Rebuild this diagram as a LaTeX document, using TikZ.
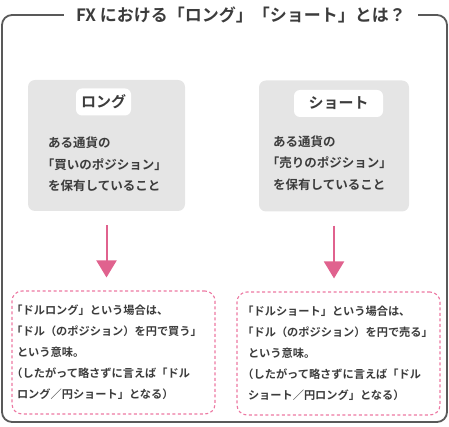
\documentclass[tikz,border=0pt]{standalone}
\usepackage{fontspec}
\setmainfont{Noto Sans CJK JP}[BoldFont=Noto Sans CJK JP Bold]
\usetikzlibrary{arrows.meta,positioning}

\definecolor{framegray}{HTML}{595959}
\definecolor{boxgray}{HTML}{E5E5E5}
\definecolor{textgray}{HTML}{3C3C3C}
\definecolor{arrowpink}{HTML}{E0628E}
\definecolor{dashpink}{HTML}{EC78A2}

% pull a leading bracket flush to the left edge
\newcommand{\lead}{\leavevmode\kern-.5em}

\tikzset{
  frame/.style={draw=framegray, line width=1.8pt, rounded corners=10pt},
  graybox/.style={fill=boxgray, rounded corners=7pt, minimum width=157pt, minimum height=131pt},
  tag/.style={fill=white, rounded corners=6pt, minimum height=27pt, font=\fontsize{15}{18}\selectfont\bfseries, text=textgray},
  body/.style={align=left, anchor=west, inner sep=0pt, font=\fontsize{12.5}{21.5}\selectfont\bfseries, text=textgray},
  note/.style={draw=dashpink, dash pattern=on 3pt off 2.5pt, line width=1.1pt, rounded corners=10pt,
    minimum width=203pt, minimum height=123pt, inner sep=5pt, align=left,
    font=\fontsize{11.2}{21}\selectfont\bfseries, text=textgray},
  arr/.style={draw=arrowpink, line width=2pt, -{Triangle[width=20pt,length=17pt]}, shorten <=14pt, shorten >=13pt},
}

\begin{document}
\begin{tikzpicture}[x=1pt, y=-1pt]
    \useasboundingbox (0,0) rectangle (449,427);

    % Title and outer frame
    \node[inner xsep=12pt, font=\fontsize{17}{20}\selectfont\bfseries, text=textgray] (title) at (241,15) {FX における「ロング」「ショート」とは？};
    \draw[frame] (title.west) -- (2,15) -- (2,422) -- (447,422) -- (447,15) -- (title.east);

    % Gray boxes
    \node[graybox] (longbox) at (106.5,145.5) {};
    \node[graybox, minimum width=150pt] (shortbox) at (334,146) {};

    \node[tag, minimum width=55pt] (longtag) at (103.5,102) {ロング};
    \node[tag, minimum width=89pt] (shorttag) at (338.5,103.5) {ショート};

    \node[body] (longtext) at (48,164.5) {ある通貨の\\\lead「買いのポジション」\\を保有していること};
    \node[body] (shorttext) at (273,163) {ある通貨の\\\lead「売りのポジション」\\を保有していること};

    % Notes
    \node[note, text width=193pt] (longnote) at (113.5,352.5) {\lead「ドルロング」という場合は、\\\lead「ドル（のポジション）を円で買う」\\という意味。\\\lead（したがって略さずに言えば「ドル\\ロング／円ショート」となる）};
    \node[note, text width=181pt] (shortnote) at (338.5,353.5) {\lead「ドルショート」という場合は、\\\lead「ドル（のポジション）を円で売る」\\という意味。\\\lead（したがって略さずに言えば「ドル\\ショート／円ロング」となる）};

    % Arrows
    \draw[arr] (longbox.south) -- (longbox.south |- longnote.north);
    \draw[arr] (shortbox.south) -- (shortbox.south |- shortnote.north);
\end{tikzpicture}
\end{document}
